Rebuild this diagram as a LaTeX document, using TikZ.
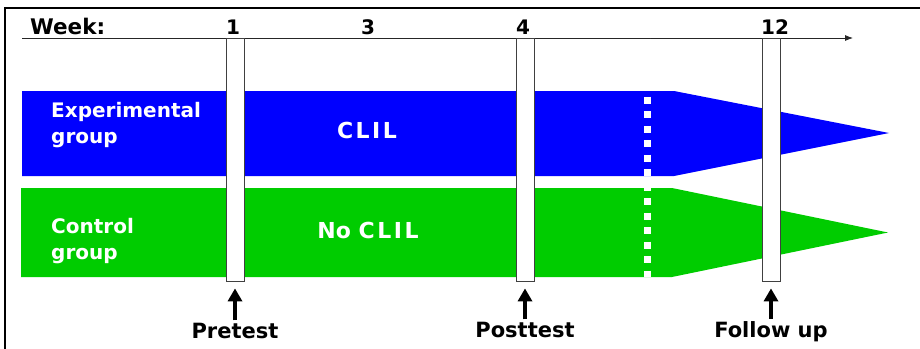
\documentclass[tikz,border=0pt]{standalone}
\usepackage{fontspec}
\setmainfont{DejaVu Sans}
\usetikzlibrary{arrows.meta}
\definecolor{bandblue}{RGB}{0,0,255}
\definecolor{bandgreen}{RGB}{0,204,0}
\newcommand{\ls}{\kern2.5pt}
\begin{document}
\begin{tikzpicture}[x=1pt,y=-1pt,
  every node/.style={inner sep=0pt,font=\bfseries},
  weekno/.style={anchor=base,font=\fontsize{20}{22}\selectfont\bfseries},
  bandtext/.style={anchor=base west,align=left,text=white,font=\fontsize{20}{26}\selectfont\bfseries},
  midtext/.style={anchor=base,text=white,font=\fontsize{22}{24}\selectfont\bfseries},
  testbar/.style={draw=black!75,line width=0.8pt,fill=white,minimum width=18pt,minimum height=243pt},
  testlabel/.style={anchor=base,font=\fontsize{21}{24}\selectfont\bfseries},
  testarrow/.style={line width=4.5pt,-{Triangle[length=13pt,width=14pt]},shorten <=2pt,shorten >=7pt},
  axis/.style={draw=black!85,line width=0.8pt,-{Latex[length=8pt,width=6pt]}}]
\useasboundingbox (0,0) rectangle (920,348);
% frame
\draw[line width=2pt] (5,349) -- (5,8) -- (921,8);
% axis
\coordinate (ax0) at (22,38);
\coordinate (ax1) at (853,38);
\draw[axis] (ax0) -- (ax1);
\node[weekno,anchor=base west,font=\fontsize{21.5}{22}\selectfont\bfseries] (week) at (30,34) {Week:};
\node[weekno] (w1) at (233,34) {1};
\node[weekno] (w3) at (368,34) {3};
\node[weekno] (w4) at (523,34) {4};
\node[weekno] (w12) at (775,34) {12};
% bands
\fill[bandblue] (22,91) -- (674,91) -- (889,133) -- (674,176) -- (22,176) -- cycle;
\fill[bandgreen] (21,188) -- (672,188) -- (888,232.5) -- (672,277) -- (21,277) -- cycle;
% dashed white separator
\coordinate (d0) at (647.5,38.6);
\coordinate (d1) at (647.5,277);
\draw[white,line width=7pt,dash pattern=on 7pt off 7.5pt] (d0) -- (d1);
% bars
\node[testbar] (b1) at (235,159.5) {};
\node[testbar] (b4) at (525,159.5) {};
\node[testbar] (b12) at (771,159.5) {};
% band texts
\node[bandtext] (exp) at (51,143) {Experimental\\group};
\node[bandtext] (ctl) at (51,259) {Control\\group};
\node[midtext] (clil) at (367,138) {C\ls L\ls I\ls L};
\node[midtext] (noclil) at (368,238) {No C\ls L\ls I\ls L};
% test labels
\node[testlabel] (pre) at (235,338) {Pretest};
\node[testlabel] (post) at (525,337) {Posttest};
\node[testlabel] (fol) at (771,337) {Follow up};
\draw[testarrow] (pre.north) -- (b1.south);
\draw[testarrow] (post.north) -- (b4.south);
\draw[testarrow] (fol.north) -- (b12.south);
\end{tikzpicture}
\end{document}
